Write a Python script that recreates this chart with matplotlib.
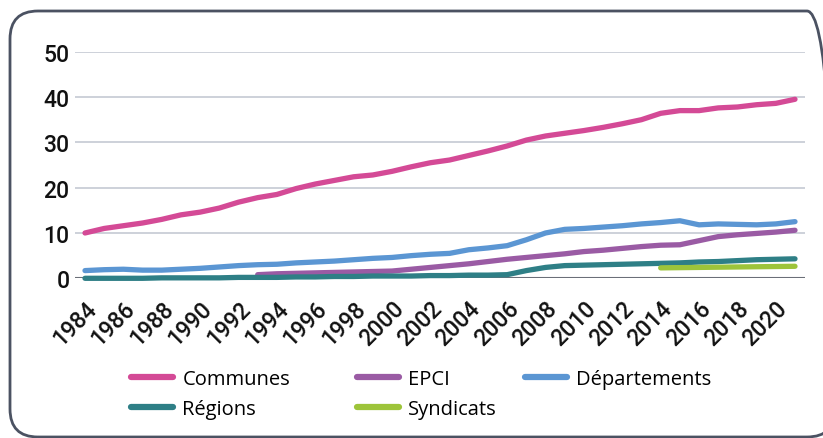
import numpy as np
import matplotlib
matplotlib.use("Agg")
import matplotlib.pyplot as plt
from matplotlib.patches import FancyBboxPatch
from matplotlib.transforms import IdentityTransform

plt.rcParams['font.family'] = ['Open Sans', 'DejaVu Sans']

years = np.arange(1984, 2022)
communes = [10.0, 11.0, 11.6, 12.2, 13.0, 14.0, 14.6, 15.5, 16.8, 17.8,
            18.5, 19.8, 20.8, 21.6, 22.4, 22.8, 23.6, 24.6, 25.5, 26.1,
            27.1, 28.1, 29.2, 30.5, 31.4, 32.0, 32.6, 33.3, 34.1, 35.0,
            36.4, 37.0, 37.0, 37.6, 37.8, 38.3, 38.6, 39.5]
departements = [1.7, 1.9, 2.0, 1.8, 1.8, 2.0, 2.2, 2.5, 2.8, 3.0,
                3.1, 3.4, 3.6, 3.8, 4.1, 4.4, 4.6, 5.0, 5.3, 5.5,
                6.3, 6.7, 7.2, 8.5, 10.0, 10.8, 11.0, 11.3, 11.6, 12.0,
                12.3, 12.7, 11.8, 12.0, 11.9, 11.8, 12.0, 12.5]
epci_years = np.arange(1993, 2022)
epci = [0.8, 1.0, 1.1, 1.2, 1.3, 1.4, 1.5, 1.6, 2.0, 2.4,
        2.8, 3.2, 3.7, 4.2, 4.6, 5.0, 5.4, 5.9, 6.2, 6.6,
        7.0, 7.3, 7.4, 8.3, 9.2, 9.6, 9.9, 10.2, 10.6]
regions = [0.0, 0.0, 0.0, 0.0, 0.1, 0.1, 0.1, 0.1, 0.2, 0.2,
           0.2, 0.3, 0.3, 0.4, 0.4, 0.5, 0.5, 0.5, 0.6, 0.6,
           0.7, 0.7, 0.8, 1.7, 2.4, 2.8, 2.9, 3.0, 3.1, 3.2,
           3.3, 3.4, 3.6, 3.7, 3.9, 4.1, 4.2, 4.3]
synd_years = np.arange(2014, 2022)
syndicats = [2.3, 2.35, 2.4, 2.45, 2.5, 2.55, 2.6, 2.65]
xticks = np.arange(1984, 2021, 2)
yticks = [0, 10, 20, 30, 40, 50]

c_comm = '#d44a96'
c_epci = '#9a5ba4'
c_dep = '#5b96d3'
c_reg = '#2e7f86'
c_syn = '#9dc43a'

fig = plt.figure(figsize=(8.23, 4.39), dpi=100)
ax = fig.add_axes([75/823, 1 - 279.3/439, 730/823, 226.6/439])

# frame around the chart
box = FancyBboxPatch((10, 1), 825, 426, boxstyle="round,pad=0,rounding_size=28",
                     transform=IdentityTransform(), fill=False,
                     edgecolor='#4b5262', linewidth=2, figure=fig)
fig.patches.append(box)

lw = 3.8
kw = dict(linewidth=lw, solid_capstyle='round', clip_on=False, zorder=3)
l1, = ax.plot(years, communes, color=c_comm, label='Communes', **kw)
l2, = ax.plot(epci_years, epci, color=c_epci, label='EPCI', **kw)
l3, = ax.plot(years, departements, color=c_dep, label='Départements', **kw)
l4, = ax.plot(years, regions, color=c_reg, label='Régions', **kw)
l5, = ax.plot(synd_years, syndicats, color=c_syn, label='Syndicats', **kw)

ax.set_xlim(1984 - 10/19.19, 2021 + 10/19.19)
ax.set_ylim(0, 50)
ax.set_yticks(yticks)
ax.set_xticks(xticks)
tickfont = dict(family=['Roboto', 'DejaVu Sans'], weight='medium')
ax.set_xticklabels([str(y) for y in xticks], rotation=45, ha='right',
                   rotation_mode='anchor', fontsize=16.5, **tickfont)
ax.set_yticklabels([str(v) for v in yticks], fontsize=16.5, **tickfont)
ax.tick_params(axis='both', length=0, colors='#111111')
ax.tick_params(axis='y', pad=4)
ax.tick_params(axis='x', pad=13)
for s in ax.spines.values():
    s.set_visible(False)
for v in yticks[1:]:
    ax.axhline(v, color='#c5c9d3', linewidth=1.2, zorder=1)
ax.axhline(0, color='#6b6f78', linewidth=1.5, zorder=1)

# legend, one column at a time
cols = [([l1, l4], 131), ([l2, l5], 357), ([l3], 525)]
for handles, x0 in cols:
    leg = fig.legend(handles=handles, loc='upper left',
                     bbox_to_anchor=(x0/823, 1 - 370/439),
                     frameon=False, fontsize=14.5, handlelength=2.1,
                     handletextpad=0.45, borderpad=0, borderaxespad=0,
                     labelspacing=0.52)
    for line in leg.get_lines():
        line.set_linewidth(4.5)
        line.set_solid_capstyle('round')

fig.savefig('out.png', dpi=100)
